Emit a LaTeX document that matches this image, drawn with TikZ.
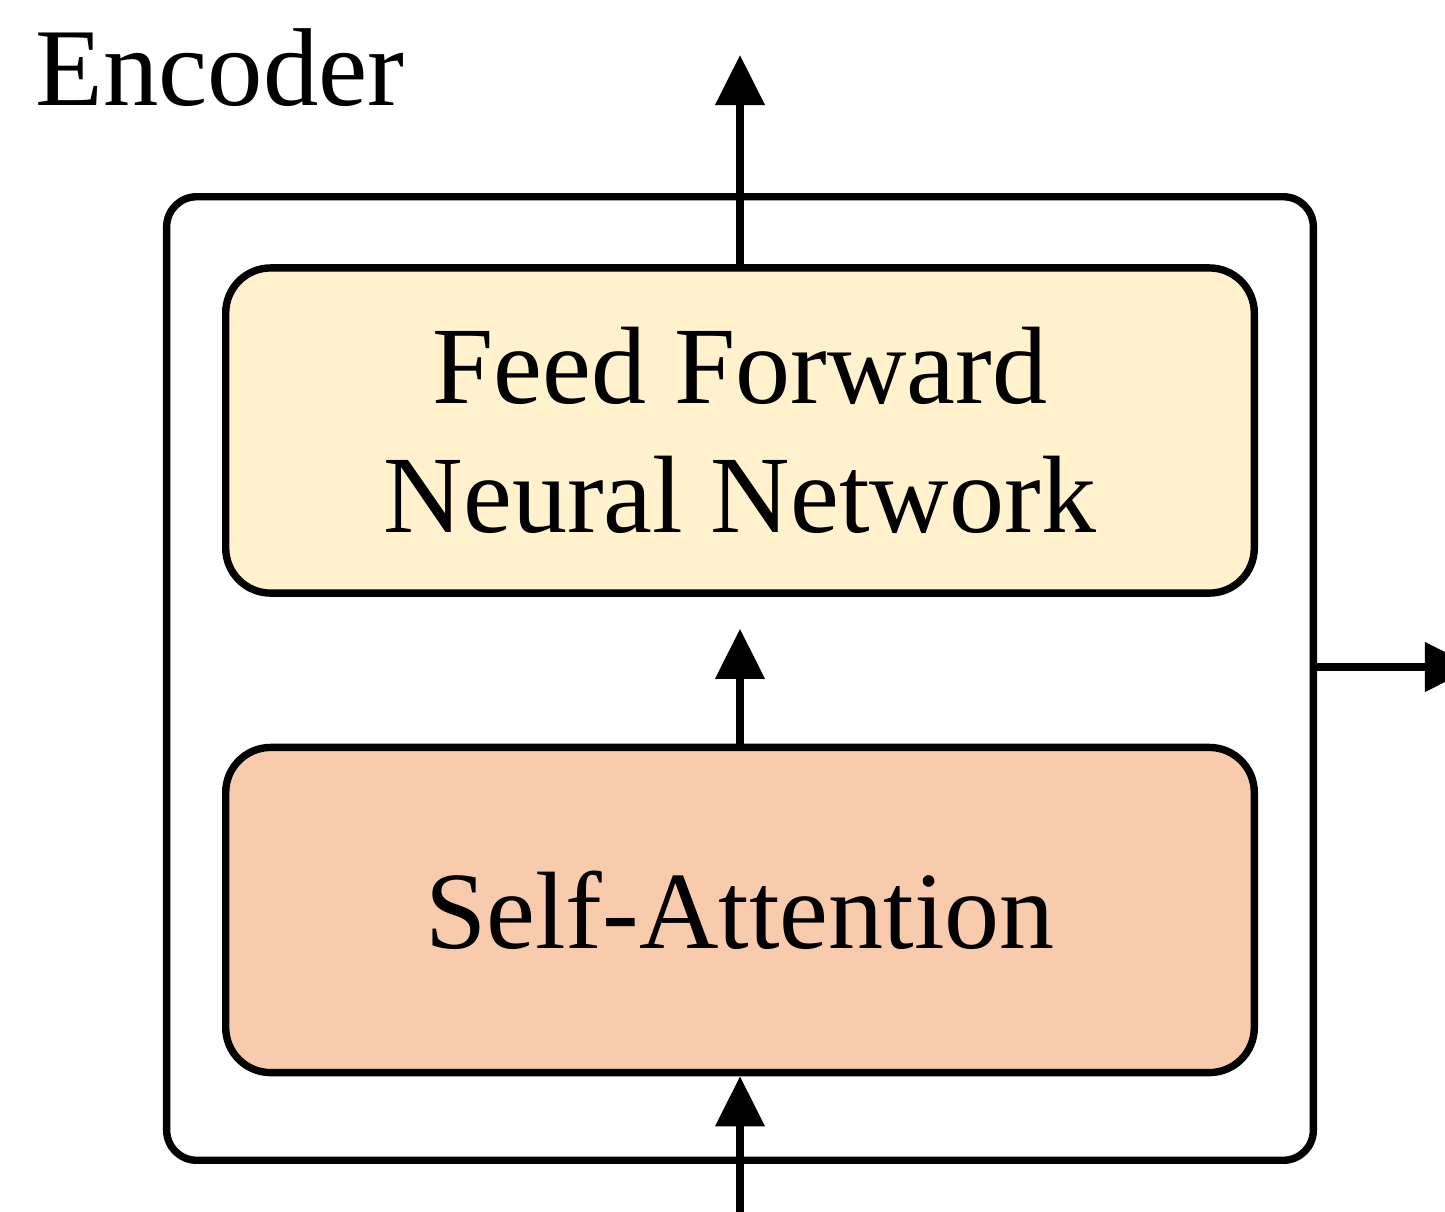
\documentclass[tikz,border=0pt]{standalone}
\usepackage{fontspec}
\setmainfont{Liberation Serif}
\usetikzlibrary{arrows.meta,positioning}
\definecolor{ffnnfill}{HTML}{FFF2CC}
\definecolor{safill}{HTML}{F8CBAD}
\tikzset{
  layerbox/.style={draw=black, line width=2.1pt, rounded corners=0.45cm,
    minimum width=10.28cm, minimum height=3.25cm, align=center,
    font=\fontsize{31.3}{36.5}\selectfont},
  flow/.style={line width=2.1pt, -{Triangle[length=0.5cm,width=0.48cm]}},
}
\begin{document}
\begin{tikzpicture}[x=0.01cm,y=-0.01cm]
  \useasboundingbox (0,0) rectangle (1445,1211);
  \clip (0,0) rectangle (1445,1211);

  % encoder frame
  \node[draw=black, line width=2.1pt, rounded corners=0.3cm,
        minimum width=11.46cm, minimum height=9.63cm] (enc) at (740,678.5) {};
  \node[anchor=base west, inner sep=0pt, font=\fontsize{31.5}{36}\selectfont]
        (title) at (35,105) {Encoder};

  % the two sub-layers
  \node[layerbox, fill=ffnnfill] (ffnn) at (740,430.5) {Feed Forward\\Neural Network};
  \node[layerbox, fill=safill] (sa) at (740,910) {Self-Attention};

  % free ends of the connectors
  \coordinate (out) at (740,55);
  \coordinate (in) at (740,1230);
  \coordinate (side) at (1475,667);

  \draw[flow] (in) -- (sa.south);
  \draw[flow, shorten >=0.32cm] (sa.north) -- (ffnn.south);
  \draw[flow] (ffnn.north) -- (out);
  \draw[flow] (enc.east |- side) -- (side);
\end{tikzpicture}
\end{document}
